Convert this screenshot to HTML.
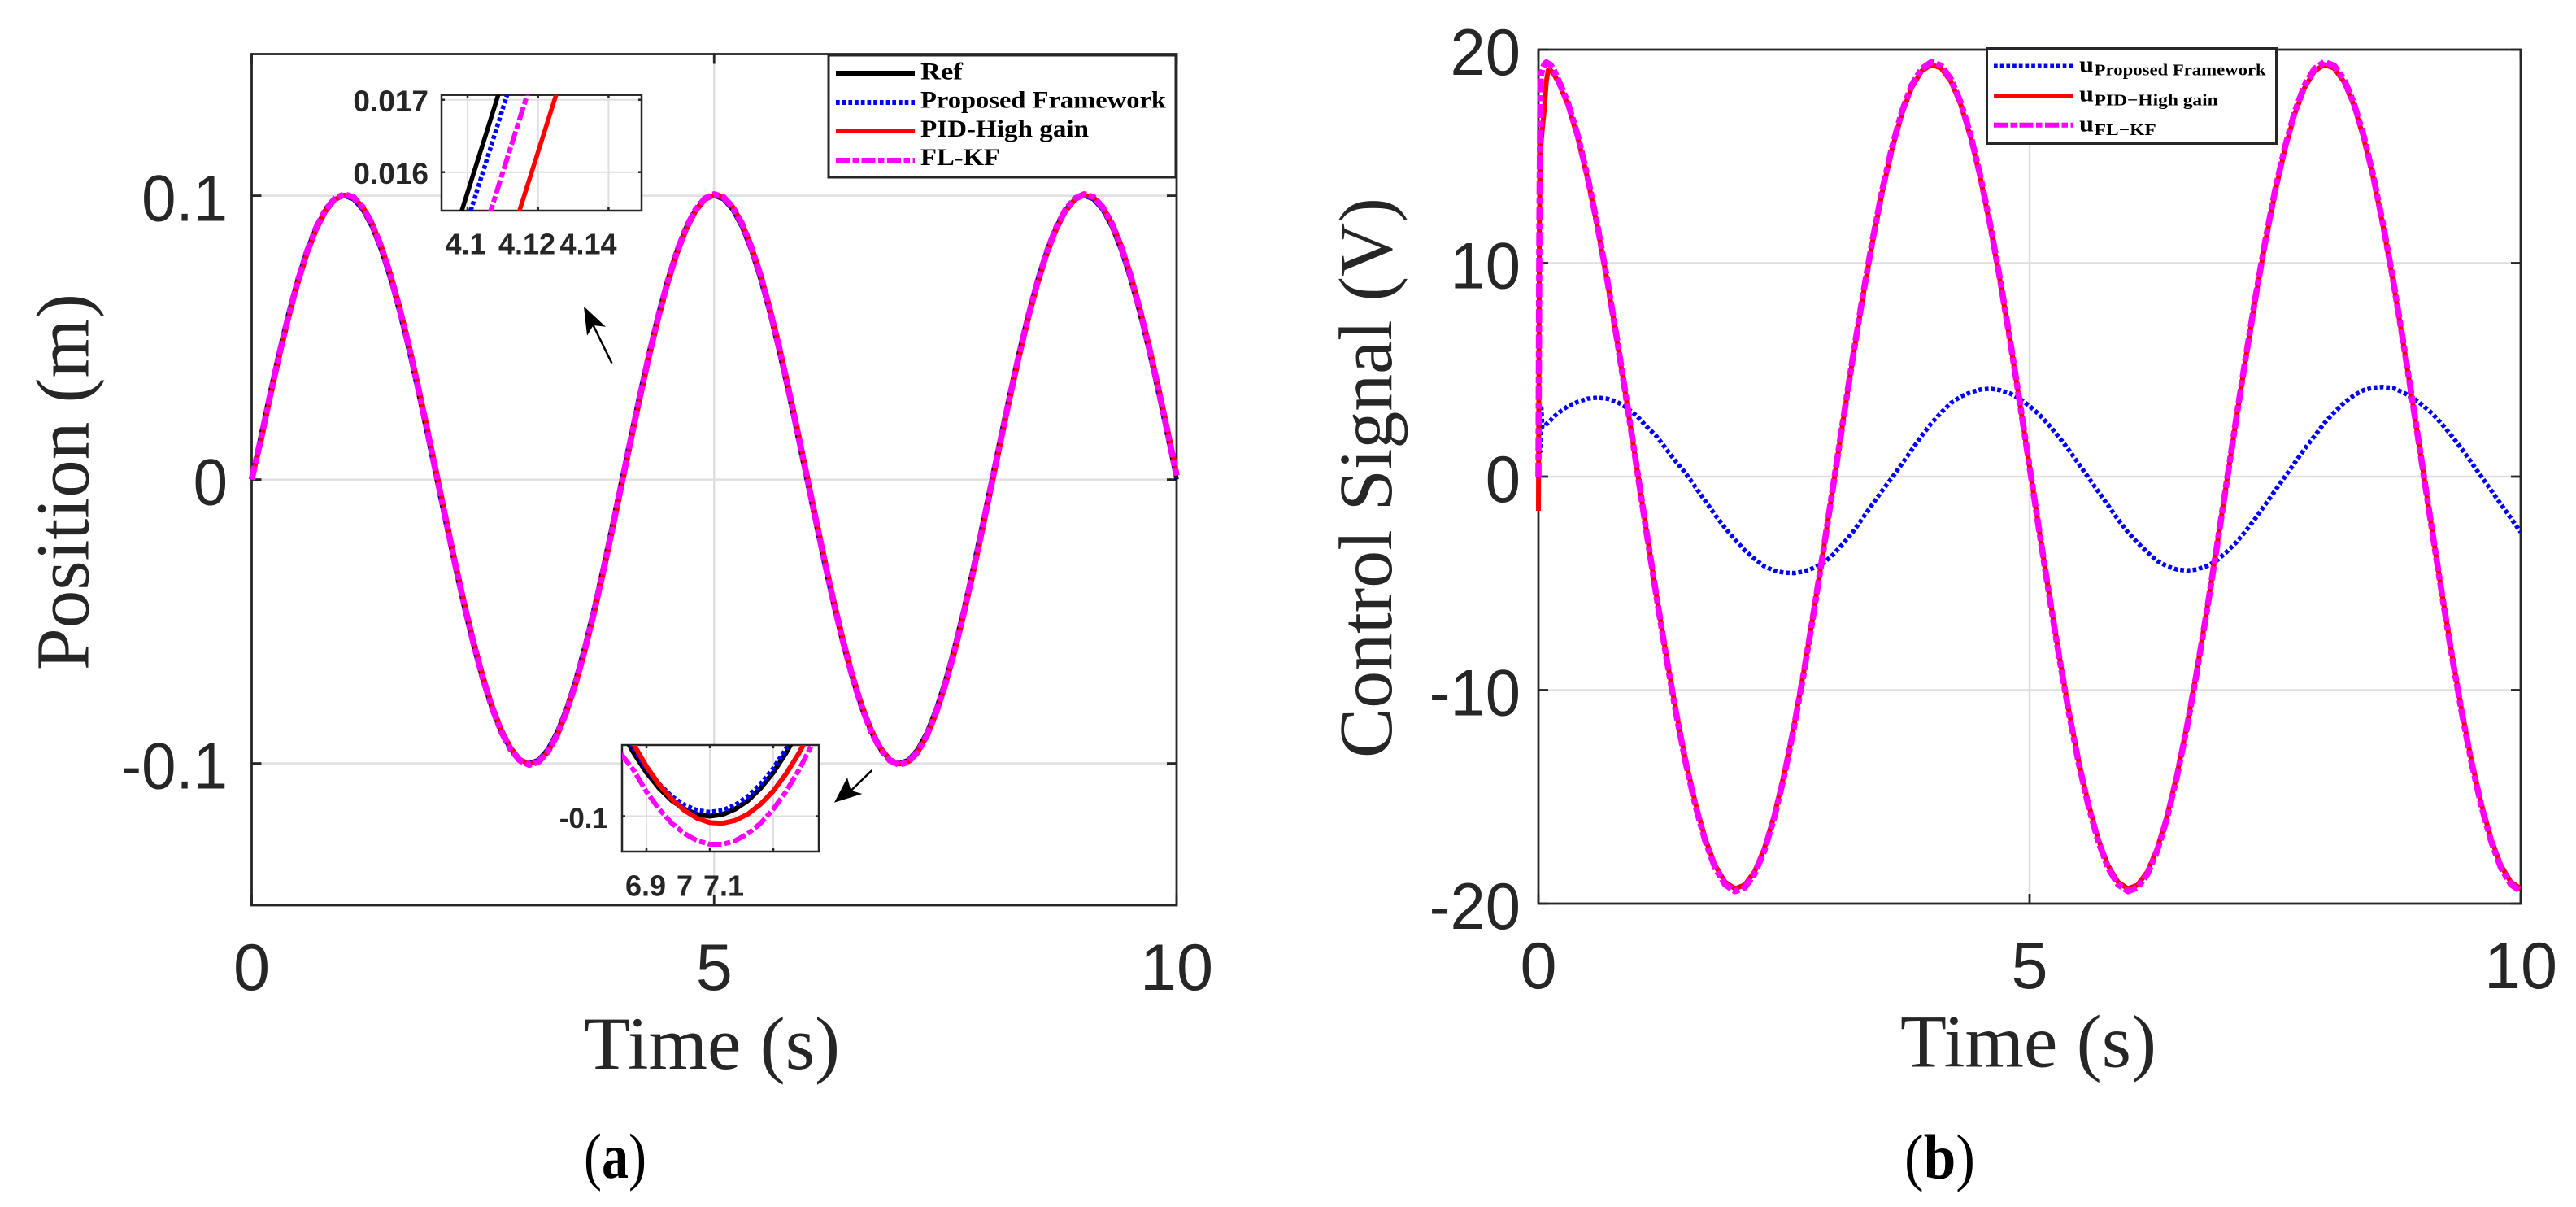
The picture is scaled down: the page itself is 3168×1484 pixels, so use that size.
<!DOCTYPE html>
<html lang="en">
<head>
<meta charset="utf-8">
<title>Position and control signal comparison</title>
<style>
html,body{margin:0;padding:0;background:#fff;}
svg{display:block;}
.tick{font-family:"Liberation Sans",sans-serif;fill:#262626;}
.title{font-family:"Liberation Serif",serif;fill:#262626;}
.leg{font-family:"Liberation Serif",serif;font-weight:bold;fill:#000;}
</style>
</head>
<body>
<svg id="fig" xmlns="http://www.w3.org/2000/svg" width="3168" height="1484" viewBox="0 0 3168 1484">
<rect x="0" y="0" width="3168" height="1484" fill="#fff"/>
<defs>
<clipPath id="clipA1"><rect x="543" y="116.7" width="246" height="142.3"/></clipPath>
<clipPath id="clipA2"><rect x="765" y="916" width="242" height="131"/></clipPath>
</defs>
<g id="plotA"></g>
<g id="plotB"></g>

<text class="title" x="718" y="1314" font-size="92" textLength="315" lengthAdjust="spacingAndGlyphs">Time (s)</text>
<text class="title" x="108.7" y="824" font-size="93" textLength="463" lengthAdjust="spacingAndGlyphs" transform="rotate(-90 108.7 824)">Position (m)</text>
<text class="title" x="2337" y="1311.5" font-size="92" textLength="315" lengthAdjust="spacingAndGlyphs">Time (s)</text>
<text class="title" x="1711" y="932" font-size="93" textLength="689" lengthAdjust="spacingAndGlyphs" transform="rotate(-90 1711 932)">Control Signal (V)</text>
<text x="718" y="1448" font-family="Liberation Serif, serif" font-size="78" fill="#000" textLength="77" lengthAdjust="spacingAndGlyphs">(<tspan font-weight="bold">a</tspan>)</text>
<text x="2342" y="1449" font-family="Liberation Serif, serif" font-size="78" fill="#000" textLength="87" lengthAdjust="spacingAndGlyphs">(<tspan font-weight="bold">b</tspan>)</text>

<g>
<rect x="1019" y="68" width="427" height="150" fill="#fff" stroke="#262626" stroke-width="3"/>
<line x1="1028" x2="1125" y1="90" y2="90" stroke="#000" stroke-width="6"/>
<line x1="1028" x2="1125" y1="126" y2="126" stroke="#0000ff" stroke-width="6" stroke-dasharray="4.7 3"/>
<line x1="1028" x2="1125" y1="161" y2="161" stroke="#ff0000" stroke-width="6"/>
<line x1="1028" x2="1125" y1="197" y2="197" stroke="#ff00ff" stroke-width="6" stroke-dasharray="17 3.5 7.5 3.5"/>
<text class="leg" x="1132" y="97.3" font-size="30" textLength="52" lengthAdjust="spacingAndGlyphs">Ref</text>
<text class="leg" x="1132" y="132.7" font-size="30" textLength="302" lengthAdjust="spacingAndGlyphs">Proposed Framework</text>
<text class="leg" x="1132" y="168" font-size="30" textLength="207" lengthAdjust="spacingAndGlyphs">PID-High gain</text>
<text class="leg" x="1132" y="203" font-size="30" textLength="98" lengthAdjust="spacingAndGlyphs">FL-KF</text>
</g>

<g>
<rect x="2443.5" y="59.5" width="356" height="117" fill="#fff" stroke="#262626" stroke-width="3"/>
<line x1="2452" x2="2550" y1="81.3" y2="81.3" stroke="#0000ff" stroke-width="5.5" stroke-dasharray="4.7 3"/>
<line x1="2452" x2="2550" y1="118" y2="118" stroke="#ff0000" stroke-width="6"/>
<line x1="2452" x2="2550" y1="153.7" y2="153.7" stroke="#ff00ff" stroke-width="6" stroke-dasharray="17 3.5 7.5 3.5"/>
<text class="leg" x="2557" y="88.3" font-size="28" textLength="18" lengthAdjust="spacingAndGlyphs">u</text>
<text class="leg" x="2575.7" y="92.7" font-size="20" textLength="211" lengthAdjust="spacingAndGlyphs">Proposed Framework</text>
<text class="leg" x="2557" y="124.7" font-size="28" textLength="18" lengthAdjust="spacingAndGlyphs">u</text>
<text class="leg" x="2575.7" y="129.3" font-size="20" textLength="152" lengthAdjust="spacingAndGlyphs">PID−High gain</text>
<text class="leg" x="2557" y="161.3" font-size="28" textLength="18" lengthAdjust="spacingAndGlyphs">u</text>
<text class="leg" x="2575.7" y="166" font-size="20" textLength="76" lengthAdjust="spacingAndGlyphs">FL−KF</text>
</g>

<g>
<line x1="752.5" y1="446.7" x2="729.6" y2="400" stroke="#000" stroke-width="2.5"/>
<polygon points="718,376.7 745,401.7 729.6,400 722,412.7" fill="#000"/>
</g>
<g>
<line x1="1072.4" y1="947" x2="1046.6" y2="972" stroke="#000" stroke-width="2.5"/>
<polygon points="1026,986.7 1042,956 1046.6,972 1060.4,976" fill="#000"/>
</g>

<script>
/* ---------- Panel (a): position vs time ---------- */
const timeA = [0,0.1,0.2,0.3,0.4,0.5,0.6,0.7,0.8,0.9,1,1.1,1.2,1.3,1.4,1.5,1.6,1.7,1.8,1.9,2,2.1,2.2,2.3,2.4,2.5,2.6,2.7,2.8,2.9,3,3.1,3.2,3.3,3.4,3.5,3.6,3.7,3.8,3.9,4,4.1,4.2,4.3,4.4,4.5,4.6,4.7,4.8,4.9,5,5.1,5.2,5.3,5.4,5.5,5.6,5.7,5.8,5.9,6,6.1,6.2,6.3,6.4,6.5,6.6,6.7,6.8,6.9,7,7.1,7.2,7.3,7.4,7.5,7.6,7.7,7.8,7.9,8,8.1,8.2,8.3,8.4,8.5,8.6,8.7,8.8,8.9,9,9.1,9.2,9.3,9.4,9.5,9.6,9.7,9.8,9.9,10];
const positionRef = [0,.0156,.0309,.0454,.0588,.0707,.0809,.0891,.0951,.0988,.1,.0988,.0951,.0891,.0809,.0707,.0588,.0454,.0309,.0156,0,-.0156,-.0309,-.0454,-.0588,-.0707,-.0809,-.0891,-.0951,-.0988,-.1,-.0988,-.0951,-.0891,-.0809,-.0707,-.0588,-.0454,-.0309,-.0156,0,.0156,.0309,.0454,.0588,.0707,.0809,.0891,.0951,.0988,.1,.0988,.0951,.0891,.0809,.0707,.0588,.0454,.0309,.0156,0,-.0156,-.0309,-.0454,-.0588,-.0707,-.0809,-.0891,-.0951,-.0988,-.1,-.0988,-.0951,-.0891,-.0809,-.0707,-.0588,-.0454,-.0309,-.0156,0,.0156,.0309,.0454,.0588,.0707,.0809,.0891,.0951,.0988,.1,.0988,.0951,.0891,.0809,.0707,.0588,.0454,.0309,.0156,0];
const positionProposed = [0,.0152,.0305,.0451,.0585,.0704,.0807,.0889,.095,.0987,.1,.0988,.0952,.0893,.0811,.071,.0591,.0458,.0313,.016,.0004,-.0152,-.0305,-.0451,-.0585,-.0704,-.0807,-.0889,-.095,-.0987,-.1,-.0988,-.0952,-.0893,-.0811,-.071,-.0591,-.0458,-.0313,-.016,-.0004,.0152,.0305,.0451,.0585,.0704,.0807,.0889,.095,.0987,.1,.0988,.0952,.0893,.0811,.071,.0591,.0458,.0313,.016,.0004,-.0152,-.0305,-.0451,-.0585,-.0704,-.0807,-.0889,-.095,-.0987,-.1,-.0988,-.0952,-.0893,-.0811,-.071,-.0591,-.0458,-.0313,-.016,-.0004,.0152,.0305,.0451,.0585,.0704,.0807,.0889,.095,.0987,.1,.0988,.0952,.0893,.0811,.071,.0591,.0458,.0313,.016,.0004];
const positionPid = [0,.0132,.0286,.0433,.0569,.0691,.0796,.0881,.0945,.0986,.1002,.0994,.0961,.0904,.0825,.0726,.0609,.0477,.0334,.0182,.0025,-.0132,-.0286,-.0433,-.0569,-.0691,-.0796,-.0881,-.0945,-.0986,-.1002,-.0994,-.0961,-.0904,-.0825,-.0726,-.0609,-.0477,-.0334,-.0182,-.0025,.0132,.0286,.0433,.0569,.0691,.0796,.0881,.0945,.0986,.1002,.0994,.0961,.0904,.0825,.0726,.0609,.0477,.0334,.0182,.0025,-.0132,-.0286,-.0433,-.0569,-.0691,-.0796,-.0881,-.0945,-.0986,-.1002,-.0994,-.0961,-.0904,-.0825,-.0726,-.0609,-.0477,-.0334,-.0182,-.0025,.0132,.0286,.0433,.0569,.0691,.0796,.0881,.0945,.0986,.1002,.0994,.0961,.0904,.0825,.0726,.0609,.0477,.0334,.0182,.0025];
const positionFlKf = [0,.0143,.0297,.0444,.0579,.0701,.0805,.0889,.0951,.099,.1005,.0995,.096,.0902,.0821,.0721,.0602,.0469,.0324,.0171,.0014,-.0143,-.0297,-.0444,-.0579,-.0701,-.0805,-.0889,-.0951,-.099,-.1005,-.0995,-.096,-.0902,-.0821,-.0721,-.0602,-.0469,-.0324,-.0171,-.0014,.0143,.0297,.0444,.0579,.0701,.0805,.0889,.0951,.099,.1005,.0995,.096,.0902,.0821,.0721,.0602,.0469,.0324,.0171,.0014,-.0143,-.0297,-.0444,-.0579,-.0701,-.0805,-.0889,-.0951,-.099,-.1005,-.0995,-.096,-.0902,-.0821,-.0721,-.0602,-.0469,-.0324,-.0171,-.0014,.0143,.0297,.0444,.0579,.0701,.0805,.0889,.0951,.099,.1005,.0995,.096,.0902,.0821,.0721,.0602,.0469,.0324,.0171,.0014];
const xTicksMain = [0,5,10];
const xTickLabelsMain = ['0','5','10'];
const yTicksA = [-0.1,0,0.1];
const yTickLabelsA = ['-0.1','0','0.1'];

/* upper inset, around t = 4.1 */
const timeInsetA1 = [4.095,4.1,4.105,4.11,4.115,4.12,4.125,4.13];
const insetA1Ref = [.01495,.01572,.01649,.01727,.01804,.01881,.01958,.02035];
const insetA1Proposed = [.01456,.01533,.0161,.01688,.01765,.01842,.01919,.01996];
const insetA1FlKf = [.01368,.01445,.01522,.016,.01677,.01754,.01831,.01908];
const insetA1Pid = [.01242,.01319,.01396,.01474,.01551,.01628,.01705,.01782];
const insetA1XTicks = [4.1,4.12,4.14];
const insetA1XLabels = ['4.1','4.12','4.14'];
const insetA1YTicks = [0.016,0.017];
const insetA1YLabels = ['0.016','0.017'];

/* lower inset, around t = 7 */
const timeInsetA2 = [6.86,6.88,6.9,6.92,6.94,6.96,6.98,7,7.02,7.04,7.06,7.08,7.1,7.12,7.14,7.16,7.18];
const insetA2Ref = [-.09758,-.09822,-.09877,-.09921,-.09956,-.0998,-.09995,-.1,-.09995,-.0998,-.09956,-.09921,-.09877,-.09822,-.09758,-.09684,-.096];
const insetA2Proposed = [-.09747,-.09811,-.09866,-.0991,-.09945,-.09969,-.09984,-.09989,-.09984,-.09969,-.09945,-.0991,-.09866,-.09811,-.09747,-.09673,-.0959];
const insetA2Pid = [-.09727,-.09798,-.0986,-.09911,-.09952,-.09984,-.10006,-.10018,-.1002,-.10012,-.09994,-.09966,-.09929,-.09881,-.09824,-.09757,-.0968];
const insetA2FlKf = [-.09825,-.09871,-.09931,-.0998,-.1002,-.10049,-.10069,-.10079,-.10079,-.10069,-.10049,-.1002,-.0998,-.09931,-.09871,-.09802,-.09723];
const insetA2XTicks = [6.9,7,7.1];
const insetA2XLabels = ['6.9','7','7.1'];
const insetA2YTicks = [-0.1];
const insetA2YLabels = ['-0.1'];

/* ---------- Panel (b): control signal vs time ---------- */
const timeB = [0,.005,.01,.02,.03,.04,.06,.08,.1,.12,.15,.2,.3,.4,.5,.6,.7,.8,.9,1,1.1,1.2,1.3,1.4,1.5,1.6,1.7,1.8,1.9,2,2.1,2.2,2.3,2.4,2.5,2.6,2.7,2.8,2.9,3,3.1,3.2,3.3,3.4,3.5,3.6,3.7,3.8,3.9,4,4.1,4.2,4.3,4.4,4.5,4.6,4.7,4.8,4.9,5,5.1,5.2,5.3,5.4,5.5,5.6,5.7,5.8,5.9,6,6.1,6.2,6.3,6.4,6.5,6.6,6.7,6.8,6.9,7,7.1,7.2,7.3,7.4,7.5,7.6,7.7,7.8,7.9,8,8.1,8.2,8.3,8.4,8.5,8.6,8.7,8.8,8.9,9,9.1,9.2,9.3,9.4,9.5,9.6,9.7,9.8,9.9,10];
const controlProposed = [1.1,1.1,1.15,1.2,3.2,2.3,2.35,2.45,2.55,2.62,2.78,2.97,3.3,3.5,3.65,3.7,3.65,3.5,3.22,2.85,2.35,1.9,1.3,.7,.15,-.5,-1.15,-1.8,-2.4,-2.95,-3.45,-3.85,-4.2,-4.4,-4.5,-4.52,-4.45,-4.28,-4.05,-3.65,-3.15,-2.6,-1.95,-1.3,-.65,-.05,.6,1.25,1.9,2.5,3,3.45,3.75,3.95,4.08,4.12,4.05,3.9,3.65,3.3,2.9,2.4,1.85,1.25,.6,-.05,-.7,-1.35,-2,-2.6,-3.1,-3.55,-3.95,-4.2,-4.35,-4.4,-4.35,-4.2,-3.95,-3.55,-3.1,-2.55,-1.95,-1.3,-.65,0,.65,1.3,1.9,2.5,3,3.45,3.8,4.05,4.17,4.2,4.15,3.95,3.7,3.35,2.95,2.45,1.9,1.3,.65,0,-.65,-1.3,-1.95,-2.6];
const controlPid = [-1.6,5,12,15.2,15.8,16.3,17.2,18.5,19.05,19.05,18.9,18.5,17.41,15.88,13.97,11.71,9.17,6.39,3.47,.46,-2.57,-5.53,-8.35,-10.97,-13.33,-15.34,-16.99,-18.22,-18.99,-19.3,-19.13,-18.5,-17.41,-15.88,-13.97,-11.71,-9.17,-6.39,-3.47,-.46,2.57,5.53,8.35,10.97,13.33,15.34,16.99,18.22,18.99,19.3,19.13,18.5,17.41,15.88,13.97,11.71,9.17,6.39,3.47,.46,-2.57,-5.53,-8.35,-10.97,-13.33,-15.34,-16.99,-18.22,-18.99,-19.3,-19.13,-18.5,-17.41,-15.88,-13.97,-11.71,-9.17,-6.39,-3.47,-.46,2.57,5.53,8.35,10.97,13.33,15.34,16.99,18.22,18.99,19.3,19.13,18.5,17.41,15.88,13.97,11.71,9.17,6.39,3.47,.46,-2.57,-5.53,-8.35,-10.97,-13.33,-15.34,-16.99,-18.22,-18.99,-19.3];
const controlFlKf = [0,6,12,18.4,18.9,19.1,19.3,19.4,19.35,19.3,19.1,18.61,17.51,15.98,14.05,11.78,9.23,6.43,3.49,.46,-2.59,-5.56,-8.4,-11.04,-13.41,-15.43,-17.09,-18.33,-19.1,-19.42,-19.25,-18.61,-17.51,-15.98,-14.05,-11.78,-9.23,-6.43,-3.49,-.46,2.59,5.56,8.4,11.04,13.41,15.43,17.09,18.33,19.1,19.42,19.25,18.61,17.51,15.98,14.05,11.78,9.23,6.43,3.49,.46,-2.59,-5.56,-8.4,-11.04,-13.41,-15.43,-17.09,-18.33,-19.1,-19.42,-19.25,-18.61,-17.51,-15.98,-14.05,-11.78,-9.23,-6.43,-3.49,-.46,2.59,5.56,8.4,11.04,13.41,15.43,17.09,18.33,19.1,19.42,19.25,18.61,17.51,15.98,14.05,11.78,9.23,6.43,3.49,.46,-2.59,-5.56,-8.4,-11.04,-13.41,-15.43,-17.09,-18.33,-19.1,-19.42];
const yTicksB = [-20,-10,0,10,20];
const yTickLabelsB = ['-20','-10','0','10','20'];

/* ---------- Axis functions ---------- */
const xA = t => 309.5 + t * 113.75;
const yA = v => 589.6 - v * 3490;
const xB = t => 1892 + t * 120.8;
const yB = v => 586 - v * 26.25;
const xI1 = t => 575 + (t - 4.1) * 4335;
const yI1 = v => 122.7 + (0.017 - v) * 89000;
const lI1 = t => 572.5 + (t - 4.1) * 3775;
const xI2 = t => 873 + (t - 7) * 780;
const yI2 = v => 1003.5 + (-0.1 - v) * 43667;
const lI2 = t => 842 + (t - 7) * 480;

const NS = 'http://www.w3.org/2000/svg';
const DARK = '#262626';
const GRID = '#dfdfdf';

function hline(parent, x1, x2, y, color, w, name) {
  const el = document.createElementNS(NS, 'line');
  
  
  el.setAttribute('x1', x1);
  el.setAttribute('x2', x2);
  el.setAttribute('y1', y);
  el.setAttribute('y2', y);
  el.setAttribute('stroke', color);
  el.setAttribute('stroke-width', w);
  parent.appendChild(el);
}
function vline(parent, x, y1, y2, color, w, name) {
  const el = document.createElementNS(NS, 'line');
  
  
  el.setAttribute('x1', x);
  el.setAttribute('x2', x);
  el.setAttribute('y1', y1);
  el.setAttribute('y2', y2);
  el.setAttribute('stroke', color);
  el.setAttribute('stroke-width', w);
  parent.appendChild(el);
}
function frame(parent, x, y, w, h, fill, sw, name) {
  const el = document.createElementNS(NS, 'rect');
  
  
  el.setAttribute('x', x);
  el.setAttribute('y', y);
  el.setAttribute('width', w);
  el.setAttribute('height', h);
  el.setAttribute('fill', fill);
  el.setAttribute('stroke', DARK);
  el.setAttribute('stroke-width', sw);
  parent.appendChild(el);
}
function label(parent, x, y, str, size, anchor, weight, name, squeeze) {
  const el = document.createElementNS(NS, 'text');
  
  
  el.setAttribute('class', 'tick');
  el.setAttribute('x', x);
  el.setAttribute('y', y);
  el.setAttribute('font-size', size);
  el.setAttribute('text-anchor', anchor);
  el.setAttribute('font-weight', weight);
  el.textContent = str;
  parent.appendChild(el);
  if (squeeze) {
    el.setAttribute('textLength', (el.getComputedTextLength() * squeeze).toFixed(1));
    el.setAttribute('lengthAdjust', 'spacingAndGlyphs');
  }
}
function series(parent, xs, ys, xf, yf, color, w, dash, name, clip) {
  const el = document.createElementNS(NS, 'path');
  
  
  let d = '';
  for (let i = 0; i < xs.length; i++) {
    d += (i ? 'L' : 'M') + xf(xs[i]).toFixed(2) + ' ' + yf(ys[i]).toFixed(2);
  }
  el.setAttribute('d', d);
  el.setAttribute('fill', 'none');
  el.setAttribute('stroke', color);
  el.setAttribute('stroke-width', w);
  el.setAttribute('stroke-linejoin', 'round');
  if (dash) el.setAttribute('stroke-dasharray', dash);
  if (clip) el.setAttribute('clip-path', clip);
  parent.appendChild(el);
}

/* axes: grid, frame, inward ticks */
function axes(g, box, xf, yf, xTicks, yTicks, tickLen, gridW, frameW, prefix) {
  xTicks.forEach(t => {
    const x = xf(t);
    if (x > box.l + 1 && x < box.r - 1) vline(g, x, box.t, box.b, GRID, gridW, prefix + '-x-grid-line');
  });
  yTicks.forEach(v => {
    const y = yf(v);
    if (y > box.t + 1 && y < box.b - 1) hline(g, box.l, box.r, y, GRID, gridW, prefix + '-y-grid-line');
  });
  frame(g, box.l, box.t, box.r - box.l, box.b - box.t, 'none', frameW, prefix + '-axes-frame');
  xTicks.forEach(t => {
    const x = xf(t);
    vline(g, x, box.b, box.b - tickLen, DARK, frameW, prefix + '-x-tick');
    vline(g, x, box.t, box.t + tickLen, DARK, frameW, prefix + '-x-tick-top');
  });
  yTicks.forEach(v => {
    const y = yf(v);
    hline(g, box.l, box.l + tickLen, y, DARK, frameW, prefix + '-y-tick');
    hline(g, box.r, box.r - tickLen, y, DARK, frameW, prefix + '-y-tick-right');
  });
}

const MAG = '17 3.5 7.5 3.5';
const BLU = '4.7 3';

/* Panel (a) */
const gA = document.getElementById('plotA');
axes(gA, {l: 309.5, r: 1447, t: 66.5, b: 1113}, xA, yA, xTicksMain, yTicksA, 12, 2.5, 2.8, 'position');
xTicksMain.forEach((t, i) => label(gA, xA(t), 1217, xTickLabelsMain[i], 81, 'middle', 'normal', 'position-x-tick-label'));
yTicksA.forEach((v, i) => label(gA, 280, yA(v) + 31, yTickLabelsA[i], 81, 'end', 'normal', 'position-y-tick-label', 0.94));
series(gA, timeA, positionRef, xA, yA, '#000000', 5.5, null, 'series-ref');
series(gA, timeA, positionProposed, xA, yA, '#0000ff', 5.5, BLU, 'series-proposed-framework');
series(gA, timeA, positionPid, xA, yA, '#ff0000', 6, null, 'series-pid-high-gain');
series(gA, timeA, positionFlKf, xA, yA, '#ff00ff', 7.6, MAG, 'series-fl-kf');

/* upper inset */
const gI1 = document.createElementNS(NS, 'g');


gA.appendChild(gI1);
frame(gI1, 543, 116.7, 246, 142.3, '#fff', 0, 'inset-upper-background');
axes(gI1, {l: 543, r: 789, t: 116.7, b: 259}, xI1, yI1, insetA1XTicks, insetA1YTicks, 4, 2, 2.5, 'inset-upper');
insetA1XTicks.forEach((t, i) => label(gI1, lI1(t), 312.7, insetA1XLabels[i], 36, 'middle', 'bold', 'inset-upper-x-tick-label'));
insetA1YTicks.forEach((v, i) => label(gI1, 527, yI1(v) + 14.5, insetA1YLabels[i], 37, 'end', 'bold', 'inset-upper-y-tick-label'));
series(gI1, timeInsetA1, insetA1Ref, xI1, yI1, '#000000', 5.5, null, 'inset-upper-series-ref', 'url(#clipA1)');
series(gI1, timeInsetA1, insetA1Proposed, xI1, yI1, '#0000ff', 5.5, BLU, 'inset-upper-series-proposed', 'url(#clipA1)');
series(gI1, timeInsetA1, insetA1Pid, xI1, yI1, '#ff0000', 5.5, null, 'inset-upper-series-pid', 'url(#clipA1)');
series(gI1, timeInsetA1, insetA1FlKf, xI1, yI1, '#ff00ff', 6, MAG, 'inset-upper-series-fl-kf', 'url(#clipA1)');

/* lower inset */
const gI2 = document.createElementNS(NS, 'g');


gA.appendChild(gI2);
frame(gI2, 765, 916, 242, 131, '#fff', 0, 'inset-lower-background');
axes(gI2, {l: 765, r: 1007, t: 916, b: 1047}, xI2, yI2, insetA2XTicks, insetA2YTicks, 4, 2, 2.5, 'inset-lower');
insetA2XTicks.forEach((t, i) => label(gI2, lI2(t), 1101.5, insetA2XLabels[i], 36, 'middle', 'bold', 'inset-lower-x-tick-label'));
insetA2YTicks.forEach((v, i) => label(gI2, 748, yI2(v) + 14.5, insetA2YLabels[i], 35, 'end', 'bold', 'inset-lower-y-tick-label'));
series(gI2, timeInsetA2, insetA2Ref, xI2, yI2, '#000000', 6, null, 'inset-lower-series-ref', 'url(#clipA2)');
series(gI2, timeInsetA2, insetA2Proposed, xI2, yI2, '#0000ff', 6, BLU, 'inset-lower-series-proposed', 'url(#clipA2)');
series(gI2, timeInsetA2, insetA2Pid, xI2, yI2, '#ff0000', 6, null, 'inset-lower-series-pid', 'url(#clipA2)');
series(gI2, timeInsetA2, insetA2FlKf, xI2, yI2, '#ff00ff', 6, MAG, 'inset-lower-series-fl-kf', 'url(#clipA2)');

/* Panel (b) */
const gB = document.getElementById('plotB');
axes(gB, {l: 1892, r: 3100, t: 61, b: 1111}, xB, yB, xTicksMain, yTicksB, 12, 2.5, 2.8, 'control');
xTicksMain.forEach((t, i) => label(gB, xB(t), 1215, xTickLabelsMain[i], 81, 'middle', 'normal', 'control-x-tick-label'));
yTicksB.forEach((v, i) => label(gB, 1870, yB(v) + 31, yTickLabelsB[i], 81, 'end', 'normal', 'control-y-tick-label', 0.96));
series(gB, timeB, controlProposed, xB, yB, '#0000ff', 5.5, BLU, 'series-u-proposed-framework');
series(gB, timeB, controlPid, xB, yB, '#ff0000', 6, null, 'series-u-pid-high-gain');
series(gB, timeB, controlFlKf, xB, yB, '#ff00ff', 7.6, MAG, 'series-u-fl-kf');
</script>
</svg>
</body>
</html>
